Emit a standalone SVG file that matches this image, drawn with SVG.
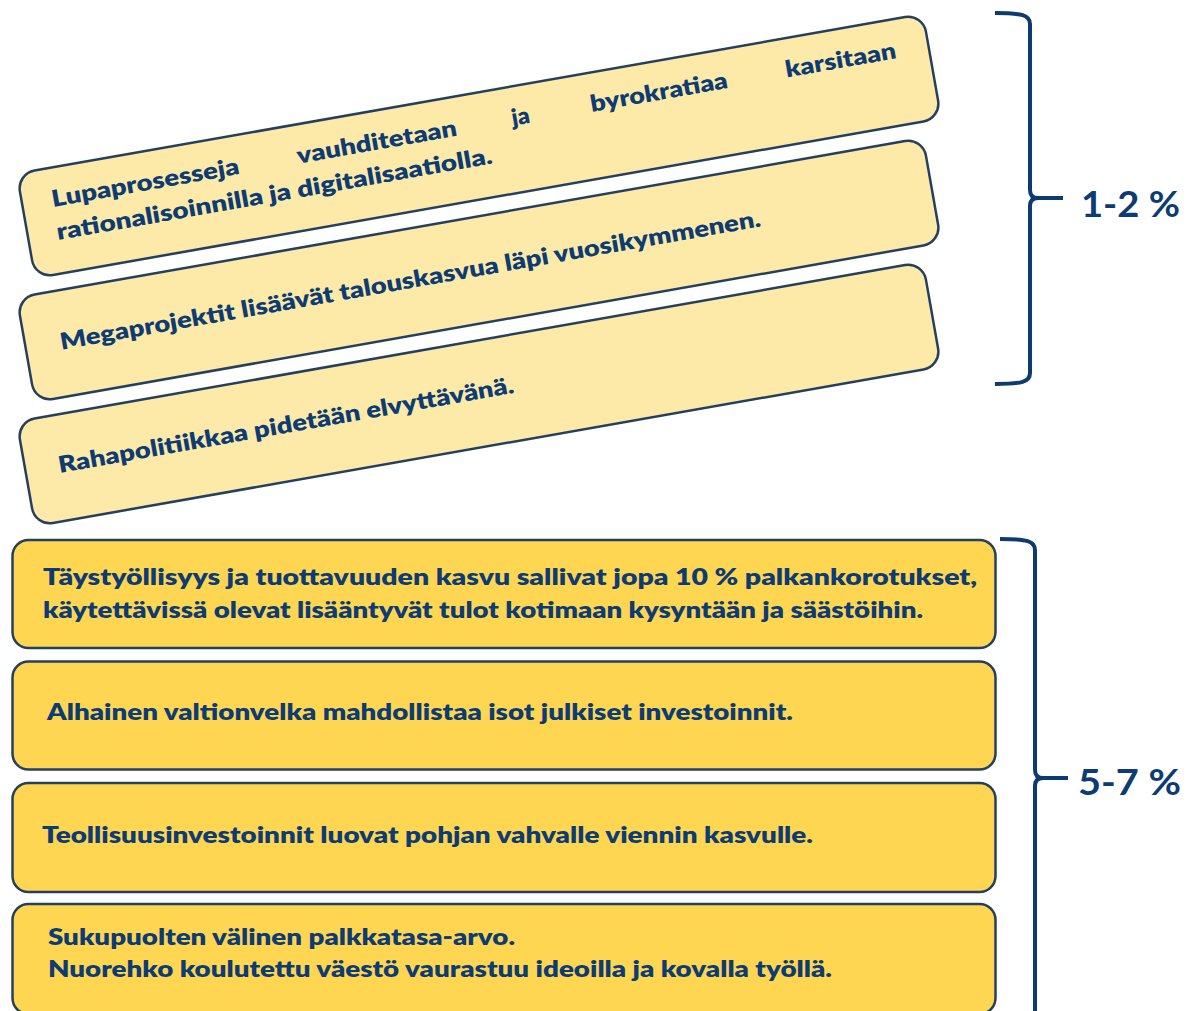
<svg xmlns="http://www.w3.org/2000/svg" width="1187" height="1011" viewBox="0 0 1187 1011">
<style>
.top{fill:#FDEAA8;stroke:#263F5E;stroke-width:2.5}
.bot{fill:#FFD652;stroke:#263F5E;stroke-width:2.5}
.t{font-family:Lato,"Open Sans","Liberation Sans",sans-serif;font-weight:800;font-size:23px;fill:#0D3B73}
.lbl{font-family:Lato,"Open Sans","Liberation Sans",sans-serif;font-weight:700;font-size:36px;fill:#0D3B73}
.brace{fill:none;stroke:#0E3A72;stroke-width:4;stroke-linecap:butt;stroke-linejoin:round}
</style>
<rect width="1187" height="1011" fill="#FFFFFF"/>
<g id="node-lupaprosessit" transform="translate(479,146) rotate(-10)">
<rect class="top" x="-460" y="-53" width="920" height="106" rx="18"/>
<text class="t" x="-430" y="-14" textLength="190" lengthAdjust="spacingAndGlyphs">Lupaprosesseja</text>
<text class="t" x="-181" y="-14" textLength="162" lengthAdjust="spacingAndGlyphs">vauhditetaan</text>
<text class="t" x="37" y="-14">ja</text>
<text class="t" x="117" y="-14" textLength="139" lengthAdjust="spacingAndGlyphs">byrokratiaa</text>
<text class="t" x="315" y="-14" textLength="112" lengthAdjust="spacingAndGlyphs">karsitaan</text>
<text class="t" x="-431" y="19.5" textLength="442" lengthAdjust="spacingAndGlyphs">rationalisoinnilla ja digitalisaatiolla.</text>
</g>
<g id="node-megaprojektit" transform="translate(479,270) rotate(-10)">
<rect class="top" x="-460" y="-53" width="920" height="106" rx="18"/>
<text class="t" x="-425" y="6" textLength="711" lengthAdjust="spacingAndGlyphs">Megaprojektit lisäävät talouskasvua läpi vuosikymmenen.</text>
</g>
<g id="node-rahapolitiikka" transform="translate(479,394) rotate(-10)">
<rect class="top" x="-460" y="-53" width="920" height="106" rx="18"/>
<text class="t" x="-426.5" y="5" textLength="462" lengthAdjust="spacingAndGlyphs">Rahapolitiikkaa pidetään elvyttävänä.</text>
</g>
<g id="node-taystyollisyys">
<rect class="bot" x="12.5" y="540" width="983" height="108" rx="16"/>
<text class="t" x="43" y="585" textLength="934" lengthAdjust="spacingAndGlyphs">Täystyöllisyys ja tuottavuuden kasvu sallivat jopa 10 % palkankorotukset,</text>
<text class="t" x="43" y="618" textLength="880" lengthAdjust="spacingAndGlyphs">käytettävissä olevat lisääntyvät tulot kotimaan kysyntään ja säästöihin.</text>
</g>
<g id="node-valtionvelka">
<rect class="bot" x="12.5" y="661.5" width="983" height="108" rx="16"/>
<text class="t" x="47" y="720" textLength="746" lengthAdjust="spacingAndGlyphs">Alhainen valtionvelka mahdollistaa isot julkiset investoinnit.</text>
</g>
<g id="node-teollisuus">
<rect class="bot" x="12.5" y="783" width="983" height="109" rx="16"/>
<text class="t" x="42" y="843" textLength="771" lengthAdjust="spacingAndGlyphs">Teollisuusinvestoinnit luovat pohjan vahvalle viennin kasvulle.</text>
</g>
<g id="node-sukupuolet">
<rect class="bot" x="12.5" y="904" width="983" height="110" rx="16"/>
<text class="t" x="48" y="945" textLength="467" lengthAdjust="spacingAndGlyphs">Sukupuolten välinen palkkatasa-arvo.</text>
<text class="t" x="48" y="977" textLength="784" lengthAdjust="spacingAndGlyphs">Nuorehko koulutettu väestö vaurastuu ideoilla ja kovalla työllä.</text>
</g>
<g id="connectors">
<path class="brace" d="M995,13 C1022,13 1030,15 1030,24 L1030,190 Q1030,198 1038,198 Q1030,198 1030,206 L1030,373 C1030,382 1022,384 995,384"/>
<path class="brace" d="M1036,198 L1063,198"/>
<path class="brace" d="M1000,539 C1027,539 1035,541 1035,550 L1035,770 Q1035,778 1043,778 Q1035,778 1035,786 L1035,1015"/>
<path class="brace" d="M1041,778 L1068,778"/>
</g>
<g id="label-1-2">
<text class="lbl" x="1081" y="217" textLength="99" lengthAdjust="spacingAndGlyphs">1-2 %</text>
</g>
<g id="label-5-7">
<text class="lbl" x="1078" y="795" textLength="103" lengthAdjust="spacingAndGlyphs">5-7 %</text>
</g>
</svg>
